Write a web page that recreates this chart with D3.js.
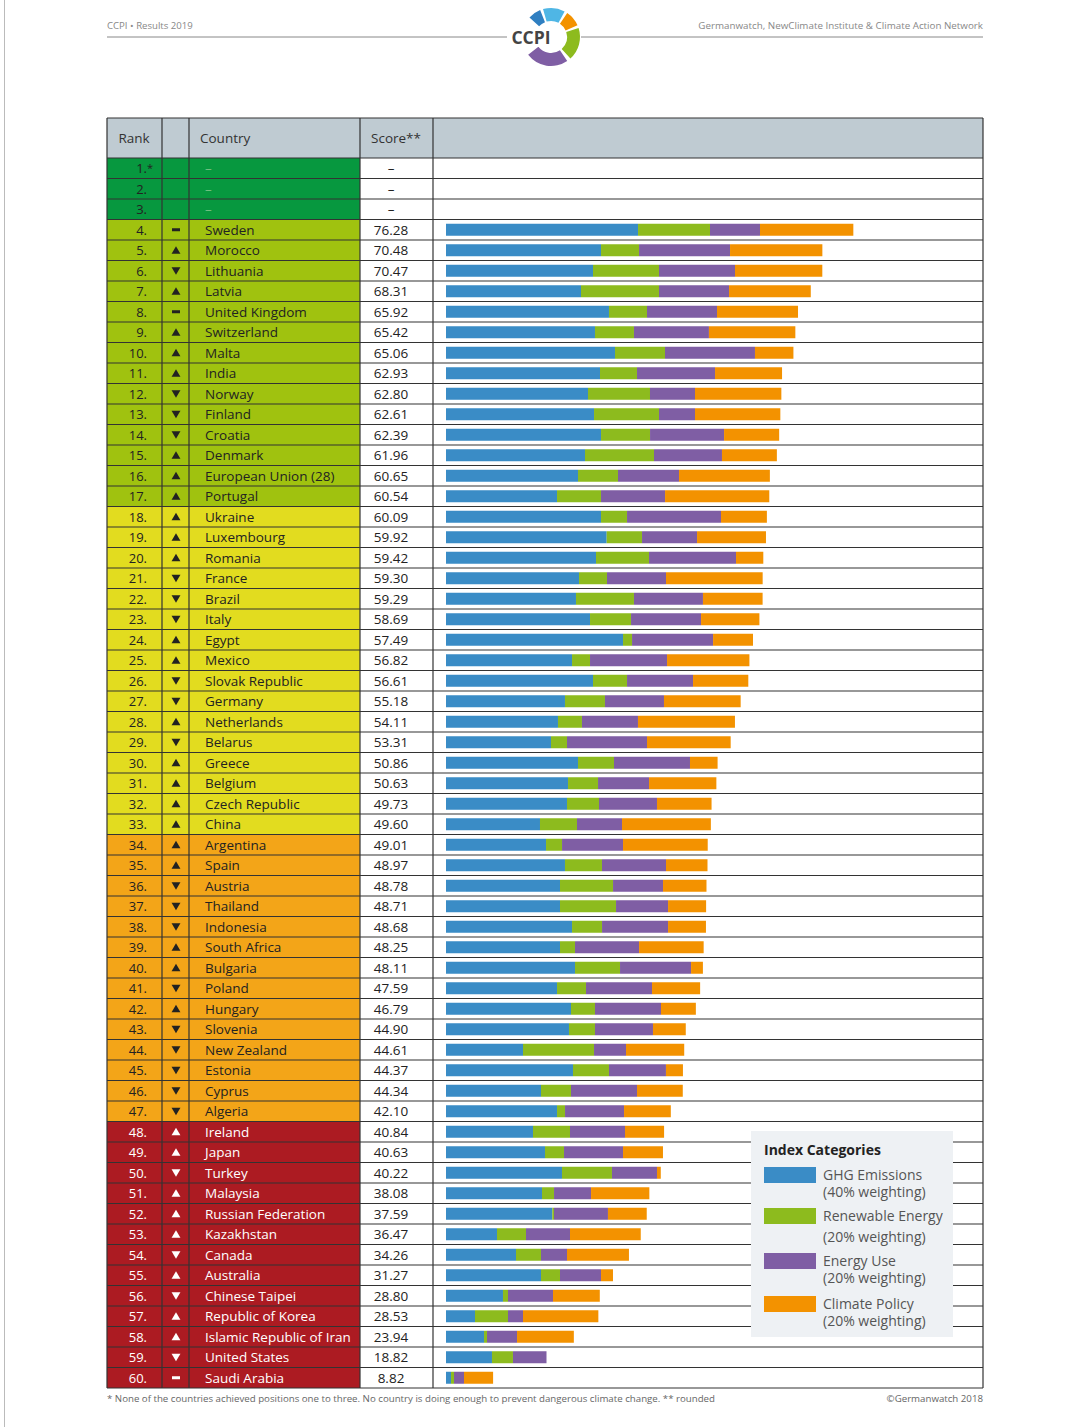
<!DOCTYPE html>
<html>
<head>
<meta charset="utf-8">
<script src="https://cdn.jsdelivr.net/npm/d3@7"></script>
<style>
  body { margin: 0; background: #fff; }
  svg text { font-family: "Open Sans", "Noto Sans", sans-serif; }
</style>
</head>
<body>
<div id="chart"></div>
<script>
// ranks 4..60 (ranks 1-3 are left empty)
var countries = ["Sweden", "Morocco", "Lithuania", "Latvia", "United Kingdom", "Switzerland", "Malta", "India", "Norway", "Finland",
  "Croatia", "Denmark", "European Union (28)", "Portugal", "Ukraine", "Luxembourg", "Romania", "France", "Brazil", "Italy",
  "Egypt", "Mexico", "Slovak Republic", "Germany", "Netherlands", "Belarus", "Greece", "Belgium", "Czech Republic", "China",
  "Argentina", "Spain", "Austria", "Thailand", "Indonesia", "South Africa", "Bulgaria", "Poland", "Hungary", "Slovenia",
  "New Zealand", "Estonia", "Cyprus", "Algeria", "Ireland", "Japan", "Turkey", "Malaysia", "Russian Federation", "Kazakhstan",
  "Canada", "Australia", "Chinese Taipei", "Republic of Korea", "Islamic Republic of Iran", "United States", "Saudi Arabia"];

var scores = [76.28, 70.48, 70.47, 68.31, 65.92, 65.42, 65.06, 62.93, 62.80, 62.61,
  62.39, 61.96, 60.65, 60.54, 60.09, 59.92, 59.42, 59.30, 59.29, 58.69,
  57.49, 56.82, 56.61, 55.18, 54.11, 53.31, 50.86, 50.63, 49.73, 49.60,
  49.01, 48.97, 48.78, 48.71, 48.68, 48.25, 48.11, 47.59, 46.79, 44.90,
  44.61, 44.37, 44.34, 42.10, 40.84, 40.63, 40.22, 38.08, 37.59, 36.47,
  34.26, 31.27, 28.80, 28.53, 23.94, 18.82, 8.82];

// trend vs previous year: 1 up, -1 down, 0 same
var trend = [0, 1, -1, 1, 0, 1, 1, 1, -1, -1,
  -1, 1, 1, 1, 1, 1, 1, -1, -1, -1,
  1, 1, -1, -1, 1, -1, 1, 1, 1, 1,
  1, 1, -1, -1, -1, 1, 1, -1, 1, -1,
  -1, -1, -1, -1, 1, 1, -1, 1, 1, 1,
  -1, 1, -1, 1, 1, -1, 0];

// category scores
var ghg = [35.96, 29.03, 27.53, 25.28, 30.52, 27.90, 31.65, 28.84, 26.59, 27.72,
  29.03, 26.03, 24.72, 20.79, 29.03, 30.09, 28.09, 24.91, 24.34, 26.97,
  33.15, 23.60, 27.53, 22.28, 20.97, 19.66, 24.72, 22.85, 22.66, 17.60,
  18.73, 22.28, 21.35, 21.35, 23.60, 21.35, 24.16, 20.79, 23.41, 23.03,
  14.42, 23.78, 17.79, 20.79, 16.29, 18.54, 21.72, 17.98, 19.91, 9.55,
  13.11, 17.79, 10.67, 5.43, 7.12, 8.61, 0.94];
var renewable = [13.48, 7.12, 12.36, 14.61, 7.12, 7.30, 9.36, 6.93, 11.61, 12.17,
  9.18, 12.92, 7.49, 8.24, 4.87, 6.62, 9.93, 5.24, 10.86, 7.68,
  1.69, 3.37, 6.37, 7.49, 4.49, 3.00, 6.74, 5.62, 5.99, 6.93,
  3.00, 6.93, 9.93, 10.49, 5.62, 2.81, 8.43, 5.43, 4.49, 4.87,
  13.30, 6.74, 5.62, 1.50, 6.93, 3.56, 9.36, 2.25, 0.31, 5.43,
  4.68, 3.56, 0.94, 6.18, 0.56, 3.93, 0.56];
var energyUse = [9.36, 17.04, 14.23, 13.11, 13.11, 14.04, 16.85, 14.61, 8.43, 6.74,
  13.86, 12.73, 11.42, 11.99, 17.60, 10.30, 16.29, 11.05, 12.92, 13.11,
  15.17, 14.42, 12.36, 11.05, 10.49, 14.98, 14.23, 9.55, 10.86, 8.43,
  11.42, 11.99, 9.36, 9.74, 12.36, 11.99, 13.30, 12.36, 12.36, 10.86,
  5.99, 10.67, 12.36, 11.05, 10.30, 11.05, 8.43, 6.93, 10.11, 8.24,
  4.87, 7.68, 8.43, 2.81, 5.62, 6.28, 1.87];
var climatePolicy = [17.48, 17.29, 16.35, 15.31, 15.17, 16.18, 7.20, 12.55, 16.17, 15.98,
  10.32, 10.28, 17.02, 19.52, 8.59, 12.91, 5.11, 18.10, 11.17, 10.93,
  7.48, 15.43, 10.35, 14.36, 18.16, 15.67, 5.17, 12.61, 10.22, 16.64,
  15.86, 7.77, 8.14, 7.13, 7.10, 12.10, 2.22, 9.01, 6.53, 6.14,
  10.90, 3.18, 8.57, 8.76, 7.32, 7.48, 0.71, 10.92, 7.26, 13.25,
  11.60, 2.24, 8.76, 14.11, 10.64, 0, 5.45];

var categories = ["GHG Emissions", "Renewable Energy", "Energy Use", "Climate Policy"];
var weightings = ["(40% weighting)", "(20% weighting)", "(20% weighting)", "(20% weighting)"];
var catColors = ["#3a8cc6", "#8dbb1e", "#7f5ea4", "#f39200"];

var svgWidth = 1080;
var svgHeight = 1427;

var svg = d3.select("#chart")
  .append("svg")
  .attr("width", svgWidth)
  .attr("height", svgHeight);

// build rows: 3 empty + 57 countries
var rows = [];
for (var r = 1; r <= 60; r++) {
  var i = r - 4;
  rows.push({
    rank: r,
    country: i >= 0 ? countries[i] : null,
    score: i >= 0 ? scores[i] : null,
    trend: i >= 0 ? trend[i] : null,
    parts: i >= 0 ? [ghg[i], renewable[i], energyUse[i], climatePolicy[i]] : null
  });
}

function rankColor(r) {
  if (r <= 3) return "#07983f";
  if (r <= 17) return "#a0c20f";
  if (r <= 33) return "#e2dc1f";
  if (r <= 47) return "#f3a518";
  return "#ac1b22";
}

var left = 107, right = 983;
var colRank = 162, colArrow = 189, colCountry = 360, colScore = 433;
var headTop = 118, headBottom = 158, tableBottom = 1388;

var y = d3.scaleBand()
  .domain(rows.map(d => d.rank))
  .range([headBottom, tableBottom]);

var x = d3.scaleLinear()
  .domain([0, 100])
  .range([446, 446 + 534]);

// page edge line
svg.append("line")
  .attr("x1", 4.5).attr("x2", 4.5)
  .attr("y1", 0).attr("y2", svgHeight)
  .attr("stroke", "#bbb");

// top header
svg.append("text")
  .attr("x", left).attr("y", 29)
  .attr("font-size", 9.6).attr("fill", "#888")
  .text("CCPI • Results 2019");
svg.append("text")
  .attr("x", right).attr("y", 29)
  .attr("text-anchor", "end")
  .attr("font-size", 9.8).attr("fill", "#888")
  .text("Germanwatch, NewClimate Institute & Climate Action Network");
svg.append("line").attr("x1", left).attr("x2", 507).attr("y1", 37).attr("y2", 37).attr("stroke", "#888");
svg.append("line").attr("x1", 581).attr("x2", right).attr("y1", 37).attr("y2", 37).attr("stroke", "#888");

// logo ring
var logo = svg.append("g").attr("transform", "translate(551,37)");
var arc = d3.arc().innerRadius(16).outerRadius(29);
var logoSegs = [
  {a0: -48, a1: -22, c: "#2f7fc1"},
  {a0: -16, a1: 28, c: "#4fb6e5"},
  {a0: 34, a1: 66, c: "#f39200"},
  {a0: 72, a1: 138, c: "#8dbb1e"},
  {a0: 146, a1: 232, c: "#7f5ea4"}
];
logo.selectAll("path")
  .data(logoSegs)
  .enter()
  .append("path")
  .attr("d", d => arc({startAngle: d.a0 * Math.PI / 180, endAngle: d.a1 * Math.PI / 180}))
  .attr("fill", d => d.c);
logo.append("rect")
  .attr("x", -42).attr("y", -10).attr("width", 44).attr("height", 20)
  .attr("fill", "#fff");
logo.append("text")
  .attr("x", -20).attr("y", 6.5)
  .attr("text-anchor", "middle")
  .attr("font-size", 17.5).attr("font-weight", "bold")
  .attr("fill", "#444")
  .text("CCPI");

// table header
svg.append("rect")
  .attr("x", left).attr("y", headTop)
  .attr("width", right - left).attr("height", headBottom - headTop)
  .attr("fill", "#bfcbd2");

var headY = (headTop + headBottom) / 2 + 5;
svg.append("text").attr("x", 134).attr("y", headY).attr("text-anchor", "middle")
  .attr("font-size", 13.5).attr("fill", "#333").text("Rank");
svg.append("text").attr("x", 200).attr("y", headY)
  .attr("font-size", 13.5).attr("fill", "#333").text("Country");
svg.append("text").attr("x", 396).attr("y", headY).attr("text-anchor", "middle")
  .attr("font-size", 13.5).attr("fill", "#333").text("Score**");

// rows
var rowG = svg.selectAll(".row")
  .data(rows)
  .enter()
  .append("g")
  .attr("class", "row")
  .attr("transform", d => `translate(0, ${y(d.rank)})`);

var bh = y.bandwidth();

rowG.append("rect")
  .attr("x", left).attr("y", 0)
  .attr("width", colCountry - left).attr("height", bh)
  .attr("fill", d => rankColor(d.rank));

function textColor(d) {
  return d.rank >= 48 ? "#fff" : "#222";
}

rowG.append("text")
  .attr("x", 147).attr("y", bh / 2 + 5)
  .attr("text-anchor", "end")
  .attr("font-size", 13)
  .attr("fill", textColor)
  .text(d => d.rank + ".");
rowG.filter(d => d.rank === 1)
  .append("text")
  .attr("x", 147).attr("y", bh / 2 + 4)
  .attr("font-size", 11).attr("fill", "#222")
  .text("*");

rowG.append("text")
  .attr("x", 205).attr("y", bh / 2 + 5)
  .attr("font-size", 13.5)
  .attr("fill", d => d.country ? textColor(d) : "#6fbf7f")
  .text(d => d.country || "–");

rowG.append("text")
  .attr("x", 391).attr("y", bh / 2 + 5)
  .attr("text-anchor", "middle")
  .attr("font-size", 13.5)
  .attr("fill", "#222")
  .text(d => d.score != null ? d.score.toFixed(2) : "–");

// trend markers
var tri = d3.symbol().type(d3.symbolTriangle).size(34);
rowG.filter(d => d.trend === 1 || d.trend === -1)
  .append("path")
  .attr("d", tri)
  .attr("transform", d => `translate(176, ${bh / 2 + (d.trend === 1 ? 1 : -1)}) rotate(${d.trend === 1 ? 0 : 180})`)
  .attr("fill", textColor);
rowG.filter(d => d.trend === 0)
  .append("rect")
  .attr("x", 172).attr("y", bh / 2 - 1.5)
  .attr("width", 8).attr("height", 3)
  .attr("fill", textColor);

// stacked bars
var barH = 12;
rowG.filter(d => d.parts)
  .selectAll(".seg")
  .data(d => {
    var acc = 0;
    return d.parts.map((v, k) => {
      var s = {x0: acc, x1: acc + v, k: k};
      acc += v;
      return s;
    });
  })
  .enter()
  .append("rect")
  .attr("class", "seg")
  .attr("x", d => x(d.x0))
  .attr("y", (bh - barH) / 2)
  .attr("width", d => Math.max(0, x(d.x1) - x(d.x0)))
  .attr("height", barH)
  .attr("fill", d => catColors[d.k]);

// grid lines
var lineYs = rows.map(d => y(d.rank)).concat([tableBottom]);
svg.selectAll(".hline")
  .data(lineYs)
  .enter()
  .append("line")
  .attr("x1", left).attr("x2", right)
  .attr("y1", d => d).attr("y2", d => d)
  .attr("stroke", "#333").attr("stroke-width", 1.2);
svg.append("line").attr("x1", left).attr("x2", right)
  .attr("y1", headTop).attr("y2", headTop).attr("stroke", "#333").attr("stroke-width", 1.2);

[left, colRank, colArrow, colCountry, colScore, right].forEach(function(cx) {
  svg.append("line")
    .attr("x1", cx).attr("x2", cx)
    .attr("y1", headTop).attr("y2", tableBottom)
    .attr("stroke", "#333").attr("stroke-width", 1.2);
});

// legend
var lg = svg.append("g").attr("transform", "translate(751,1131)");
lg.append("rect")
  .attr("width", 202).attr("height", 206)
  .attr("fill", "#eef1f4");
lg.append("text")
  .attr("x", 13).attr("y", 24)
  .attr("font-size", 14).attr("font-weight", "bold").attr("fill", "#222")
  .text("Index Categories");
var legYs = [36, 77, 122, 165];
var item = lg.selectAll(".item")
  .data(categories)
  .enter()
  .append("g")
  .attr("transform", (d, k) => `translate(13, ${legYs[k]})`);
item.append("rect")
  .attr("width", 52).attr("height", 16)
  .attr("fill", (d, k) => catColors[k]);
item.append("text")
  .attr("x", 59).attr("y", 13)
  .attr("font-size", 14).attr("fill", "#555")
  .text(d => d);
item.append("text")
  .attr("x", 59).attr("y", (d, k) => k === 1 ? 34 : 30)
  .attr("font-size", 14).attr("fill", "#555")
  .text((d, k) => weightings[k]);

// footer
svg.append("text")
  .attr("x", left).attr("y", 1402)
  .attr("font-size", 9.7).attr("fill", "#666")
  .text("* None of the countries achieved positions one to three. No country is doing enough to prevent dangerous climate change.   ** rounded");
svg.append("text")
  .attr("x", right).attr("y", 1402)
  .attr("text-anchor", "end")
  .attr("font-size", 9.7).attr("fill", "#666")
  .text("©Germanwatch 2018");
</script>
</body>
</html>
